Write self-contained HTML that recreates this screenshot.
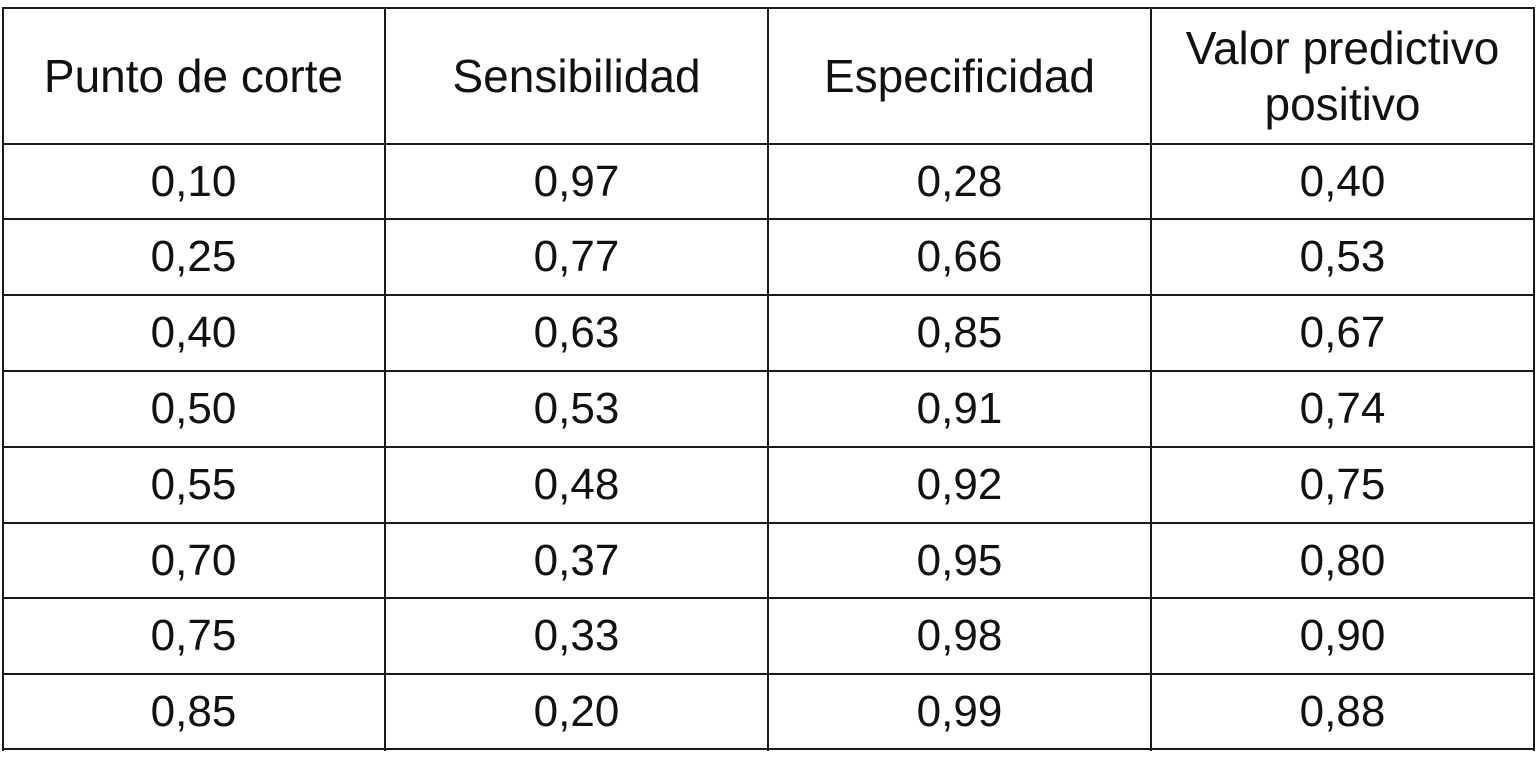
<!DOCTYPE html>
<html><head><meta charset="utf-8"><style>
html,body{margin:0;padding:0;background:#fff;width:1536px;height:773px;overflow:hidden;}
.h,.v{position:absolute;background:#1a1a1a;}
.h{height:2px;left:2px;width:1533px;}
.v{width:2px;top:7px;height:744px;}
.c{position:absolute;display:flex;align-items:center;justify-content:center;text-align:center;font-family:"Liberation Sans",sans-serif;font-size:44px;color:#111;line-height:48px;}
.hd{font-size:46px;line-height:56px;}
</style></head><body>
<div class="h" style="top:7px"></div>
<div class="h" style="top:143px"></div>
<div class="h" style="top:218px"></div>
<div class="h" style="top:294px"></div>
<div class="h" style="top:370px"></div>
<div class="h" style="top:446px"></div>
<div class="h" style="top:522px"></div>
<div class="h" style="top:597px"></div>
<div class="h" style="top:673px"></div>
<div class="h" style="top:748px"></div>
<div class="v" style="left:2px"></div>
<div class="v" style="left:384px"></div>
<div class="v" style="left:767px"></div>
<div class="v" style="left:1150px"></div>
<div class="v" style="left:1533px"></div>
<div id="t"></div>
<script>
var cols=[2,385,768,1151,1534];
var rows=[7,144,219,295,371,447,523,598,674,749];
var data=[["Punto de corte","Sensibilidad","Especificidad","Valor predictivo<br>positivo"],
["0,10","0,97","0,28","0,40"],["0,25","0,77","0,66","0,53"],["0,40","0,63","0,85","0,67"],
["0,50","0,53","0,91","0,74"],["0,55","0,48","0,92","0,75"],["0,70","0,37","0,95","0,80"],
["0,75","0,33","0,98","0,90"],["0,85","0,20","0,99","0,88"]];
var h="";
for(var r=0;r<9;r++)for(var c=0;c<4;c++){
h+='<div class="c'+(r==0?' hd':'')+'" style="left:'+cols[c]+'px;width:'+(cols[c+1]-cols[c])+'px;top:'+rows[r]+'px;height:'+(rows[r+1]-rows[r])+'px">'+data[r][c]+'</div>';}
document.getElementById("t").innerHTML=h;
</script>
</body></html>
